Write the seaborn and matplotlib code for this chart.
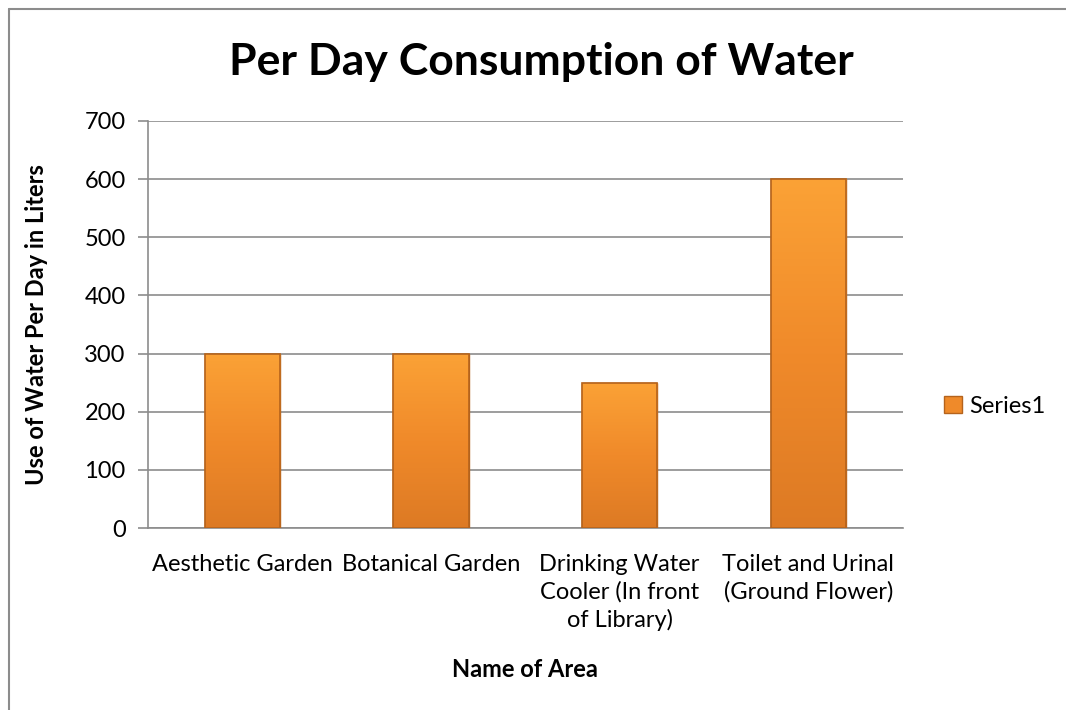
import numpy as np
import pandas as pd
import matplotlib
matplotlib.use("Agg")
import matplotlib.pyplot as plt
import seaborn as sns
from matplotlib.colors import LinearSegmentedColormap
from matplotlib.patches import Patch, Rectangle
from matplotlib.lines import Line2D

# ---------- data ----------
areas = ["Aesthetic Garden", "Botanical Garden",
         "Drinking Water\nCooler (In front\nof Library)",
         "Toilet and Urinal\n(Ground Flower)"]
liters = [300, 300, 250, 600]
yticks = [0, 100, 200, 300, 400, 500, 600, 700]

df = pd.DataFrame({"area": areas, "liters": liters})

sns.set_theme(style="white")
plt.rcParams["font.family"] = ["Lato", "DejaVu Sans"]
plt.rcParams["text.color"] = "black"

fig = plt.figure(figsize=(10.66, 7.10), dpi=100)
ax = fig.add_axes([0.1388, 0.2563, 0.708, 0.5733])

sns.barplot(data=df, x="area", y="liters", ax=ax, width=0.4,
            color="#F28C28", edgecolor="#B5631C", linewidth=1.0, zorder=3)

# gradient fill clipped to each bar
cmap = LinearSegmentedColormap.from_list("org", ["#DD7A24", "#F08A2A", "#FBA236"])
grad = np.linspace(0, 1, 256).reshape(-1, 1)
for bar in ax.patches:
    x0, y0 = bar.get_x(), bar.get_y()
    w, h = bar.get_width(), bar.get_height()
    im = ax.imshow(grad, extent=[x0, x0 + w, y0, y0 + h], origin="lower",
                   cmap=cmap, aspect="auto", zorder=4)
    im.set_clip_path(bar)
    ax.add_patch(Rectangle((x0, y0), w, h, fill=False, edgecolor="#B5631C",
                           linewidth=1.2, zorder=5))

ax.set_xlim(-0.5, len(areas) - 0.5)
ax.set_ylim(0, 700)
ax.set_yticks(yticks)
ax.yaxis.grid(True, color="#8C8C8C", linewidth=1.2, zorder=0)
ax.set_axisbelow(True)
for s in ["top", "right"]:
    ax.spines[s].set_visible(False)
for s in ["left", "bottom"]:
    ax.spines[s].set_color("#8C8C8C")
    ax.spines[s].set_linewidth(1.2)
ax.tick_params(axis="y", left=True, length=7, width=1.2, color="#8C8C8C",
               labelsize=17, labelcolor="black", pad=9)
ax.tick_params(axis="x", bottom=False, labelsize=17, labelcolor="black", pad=13)
ax.set_xticks(range(len(areas)))
ax.set_xticklabels(areas, linespacing=1.35, va="top")

ax.set_xlabel("Name of Area", fontsize=17, fontweight="bold", labelpad=19,
              color="black")
ax.set_ylabel("Use of Water Per Day in Liters", fontsize=17, fontweight="bold",
              labelpad=26, color="black")

fig.text(0.508, 0.912, "Per Day Consumption of Water", fontsize=32,
         fontweight="bold", ha="center", va="center", color="black")

handle = Patch(facecolor="#EF8A2A", edgecolor="#B5631C", label="Series1")
fig.legend(handles=[handle], loc="center left", bbox_to_anchor=(0.866, 0.428),
           frameon=False, fontsize=17, handlelength=0.75, handleheight=0.75,
           handletextpad=0.3, labelcolor="black")

# outer chart border (only top and left edges are in view)
bx, by = 9 / 1066, 1 - 9 / 710
fig.lines.append(Line2D([bx, 1.0], [by, by], transform=fig.transFigure,
                        color="#8C8C8C", linewidth=1.5))
fig.lines.append(Line2D([bx, bx], [0.0, by], transform=fig.transFigure,
                        color="#8C8C8C", linewidth=1.5))

fig.savefig("out.png", dpi=100)
